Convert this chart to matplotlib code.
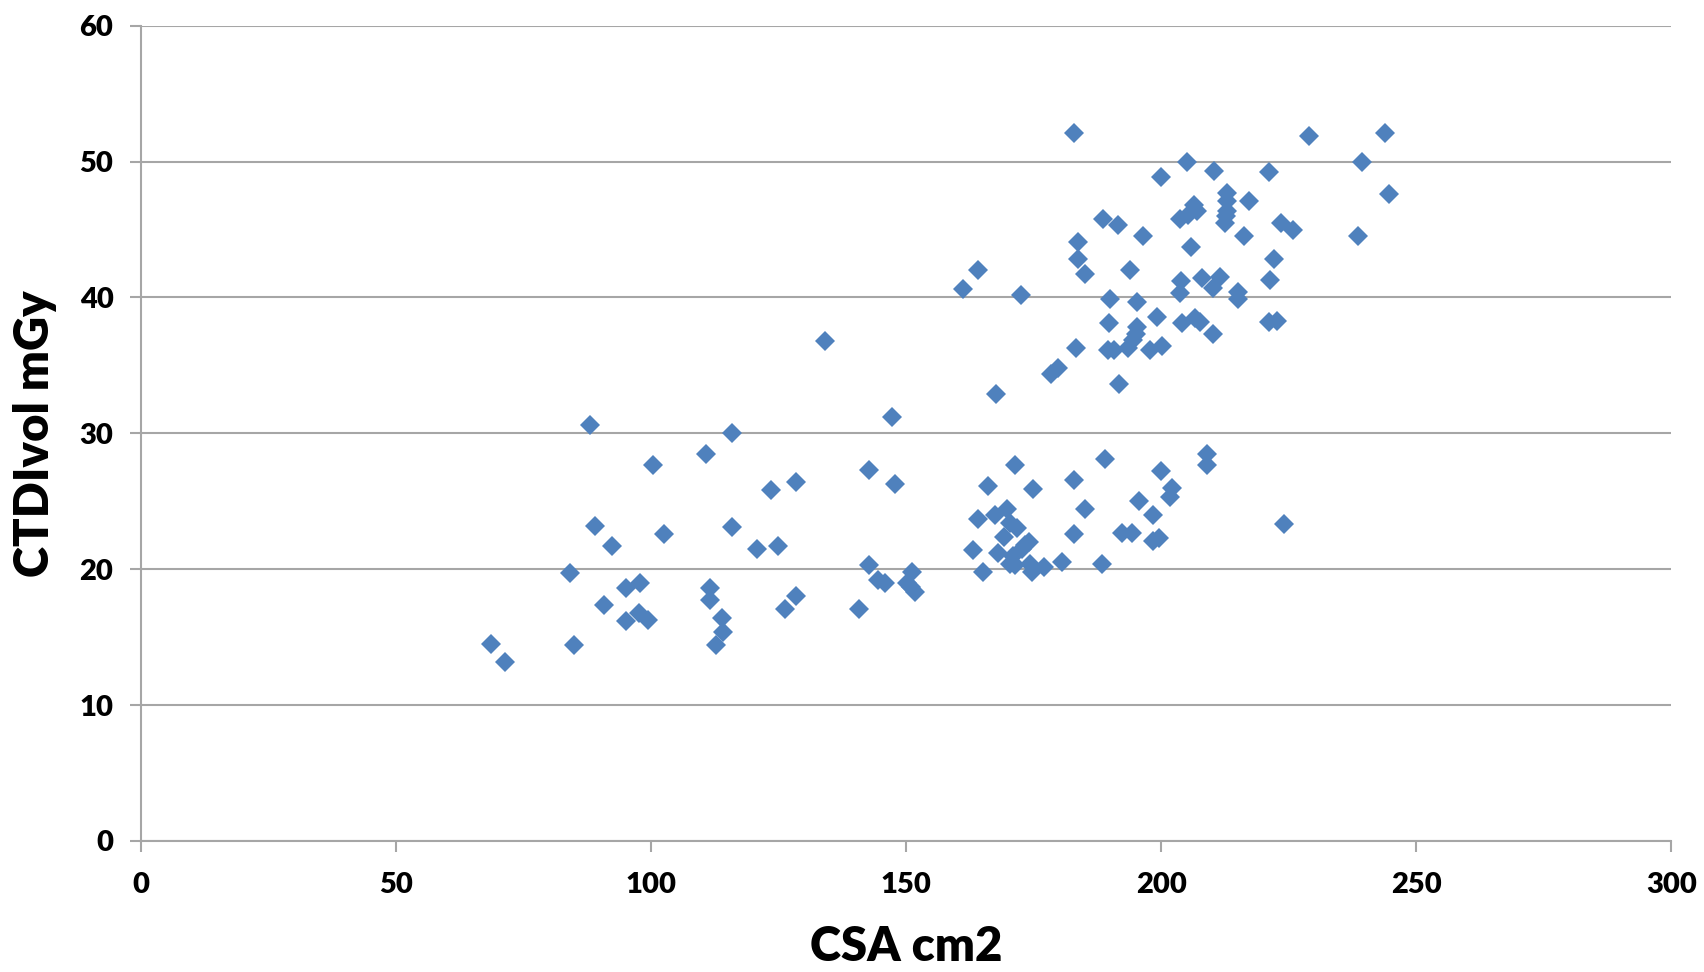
import matplotlib.pyplot as plt

# CSA (cm2) and CTDIvol (mGy)
csa = [68.6, 71.4, 84.1, 84.8, 88.0, 89.0, 90.8, 92.2, 95.0, 95.0,
       97.5, 97.8, 99.3, 100.3, 102.4, 110.7, 111.5, 111.5, 112.6, 113.8,
       114.1, 115.8, 115.8, 120.7, 123.5, 124.8, 126.2, 128.4, 128.4, 134.1,
       140.7, 142.6, 142.6, 144.5, 145.8, 147.1, 147.8, 151.1, 150.1, 151.0,
       151.7,
       163.0, 164.0, 165.1, 166.1, 167.4, 168.0, 169.2, 169.7, 170.3, 170.3,
       171.0, 171.3, 171.3, 171.6, 172.6, 173.2, 174.0, 174.3, 174.6, 174.9,
       177.0, 180.5, 182.9, 182.9, 185.0, 188.3, 189.0,
       192.2, 194.2, 195.7, 198.4, 198.4, 199.6, 199.9, 201.6, 202.0, 209.0,
       209.0, 224.1,
       161.1, 164.0, 167.5, 172.4, 178.3, 179.8, 182.9, 183.3, 183.7, 183.7,
       185.0, 188.6,
       189.9, 189.8, 189.6, 190.7, 191.4, 191.6, 193.5, 193.9, 194.5, 195.0,
       195.3, 195.2, 196.3, 197.8, 199.1, 199.9, 200.1, 203.7, 203.9, 204.0,
       203.7, 205.3, 205.1, 205.8, 206.3, 206.9, 206.6, 207.6, 207.9, 210.1,
       210.2, 210.4, 211.5, 212.5, 212.7, 212.8, 212.8, 212.8, 215.1, 215.1,
       216.1, 217.1, 221.0, 221.3, 222.0, 221.0, 222.6, 223.5, 225.9, 229.0,
       238.5, 239.3, 243.9, 244.6]
ctdi = [14.5, 13.2, 19.7, 14.4, 30.6, 23.2, 17.4, 21.7, 18.6, 16.2,
        16.8, 19.0, 16.3, 27.7, 22.6, 28.5, 18.6, 17.7, 14.4, 16.4,
        15.4, 30.0, 23.1, 21.5, 25.8, 21.7, 17.1, 26.4, 18.0, 36.8,
        17.1, 27.3, 20.3, 19.2, 19.0, 31.2, 26.3, 19.8, 19.0, 18.7,
        18.3,
        21.4, 23.7, 19.8, 26.1, 24.0, 21.2, 22.4, 24.4, 23.4, 20.4,
        21.0, 20.3, 27.7, 23.0, 21.5, 21.8, 22.0, 20.4, 19.8, 25.9,
        20.2, 20.5, 22.6, 26.6, 24.4, 20.4, 28.1,
        22.7, 22.7, 25.0, 24.0, 22.1, 22.3, 27.2, 25.3, 26.0, 28.5,
        27.7, 23.3,
        40.6, 42.0, 32.9, 40.2, 34.4, 34.8, 52.1, 36.3, 44.1, 42.8,
        41.7, 45.8,
        39.9, 38.1, 36.1, 36.1, 45.3, 33.6, 36.3, 42.0, 36.9, 37.3,
        37.8, 39.7, 44.5, 36.1, 38.6, 48.9, 36.4, 40.3, 41.2, 38.1,
        45.8, 46.1, 50.0, 43.7, 46.8, 46.4, 38.5, 38.2, 41.4, 37.3,
        40.7, 49.3, 41.5, 45.5, 46.0, 46.4, 47.1, 47.7, 40.4, 39.9,
        44.5, 47.1, 49.2, 41.3, 42.8, 38.2, 38.3, 45.5, 45.0, 51.9,
        44.5, 50.0, 52.1, 47.6]

xticks = [0, 50, 100, 150, 200, 250, 300]
yticks = [0, 10, 20, 30, 40, 50, 60]

plt.rcParams['font.family'] = ['Lato', 'DejaVu Sans']

fig = plt.figure(figsize=(17.04, 9.72), dpi=100)
ax = fig.add_axes([0.0829, 0.1348, 0.898, 0.8387])

ax.plot(csa, ctdi, linestyle='none', marker='D', markersize=10,
        color='#4F81BD', markeredgewidth=0, zorder=3)

ax.set_xlim(0, 300)
ax.set_ylim(0, 60)
ax.set_xticks(xticks)
ax.set_yticks(yticks)
ax.grid(True, axis='y', color='#A6A6A6', linewidth=1.5)
ax.set_axisbelow(True)

for s in ['top', 'right']:
    ax.spines[s].set_visible(False)
for s in ['left', 'bottom']:
    ax.spines[s].set_color('#A6A6A6')
    ax.spines[s].set_linewidth(1.5)

ax.tick_params(axis='both', color='#A6A6A6', width=1.5, length=8,
               labelsize=21)
ax.tick_params(axis='x', pad=14)
ax.tick_params(axis='y', pad=12)
for lab in ax.get_xticklabels() + ax.get_yticklabels():
    lab.set_fontweight('heavy')

ax.set_xlabel('CSA cm2', fontsize=34, fontweight='heavy', labelpad=20)
ax.set_ylabel('CTDIvol mGy', fontsize=34, fontweight='heavy', labelpad=16)

fig.savefig('out.png', dpi=100)
